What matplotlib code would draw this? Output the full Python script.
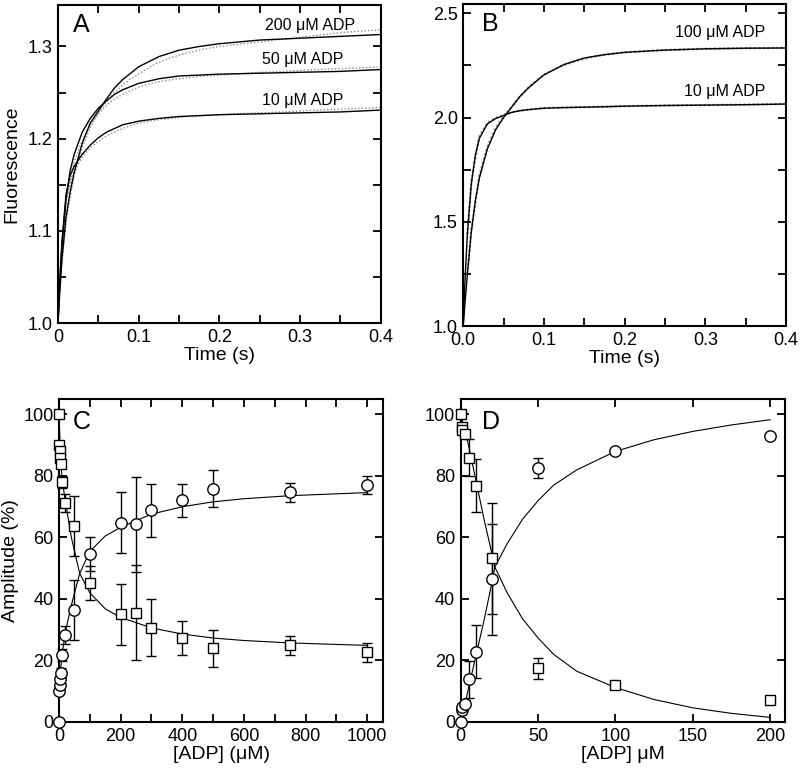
import matplotlib
matplotlib.use("Agg")
import matplotlib.pyplot as plt
from matplotlib.ticker import MultipleLocator, FuncFormatter, FormatStrFormatter

plt.rcParams['font.family'] = ['Liberation Sans', 'DejaVu Sans']

# ---------------- Panel A (fluorescence transients) ----------------
t_fit = [0, 0.002, 0.005, 0.01, 0.015, 0.02, 0.03, 0.04, 0.05, 0.06, 0.07, 0.08,
         0.1, 0.125, 0.15, 0.175, 0.2, 0.25, 0.3, 0.35, 0.4]
a_fit_200 = [1.0, 1.03, 1.07, 1.115, 1.142, 1.163, 1.195, 1.217, 1.230, 1.243, 1.255, 1.264,
             1.278, 1.289, 1.296, 1.300, 1.303, 1.307, 1.309, 1.311, 1.313]
a_fit_50 = [1.0, 1.04, 1.085, 1.135, 1.165, 1.183, 1.207, 1.222, 1.233, 1.241, 1.248, 1.253,
            1.260, 1.265, 1.268, 1.269, 1.270, 1.271, 1.272, 1.273, 1.275]
a_fit_10 = [1.0, 1.045, 1.09, 1.14, 1.16, 1.17, 1.183, 1.193, 1.201, 1.207, 1.211, 1.215,
            1.219, 1.222, 1.224, 1.225, 1.226, 1.227, 1.228, 1.229, 1.231]

t_data = [0.005, 0.01, 0.02, 0.03, 0.04, 0.05, 0.06, 0.07, 0.08, 0.09, 0.1, 0.12, 0.14,
          0.16, 0.18, 0.2, 0.22, 0.25, 0.28, 0.3, 0.32, 0.35, 0.38, 0.4]
a_data_200 = [1.065, 1.11, 1.16, 1.19, 1.212, 1.228, 1.24, 1.25, 1.258, 1.265, 1.27, 1.281, 1.288,
              1.293, 1.297, 1.300, 1.302, 1.305, 1.308, 1.310, 1.312, 1.315, 1.317, 1.318]
a_data_50 = [1.08, 1.13, 1.175, 1.198, 1.215, 1.227, 1.236, 1.243, 1.248, 1.252, 1.256, 1.261, 1.264,
             1.266, 1.268, 1.269, 1.270, 1.272, 1.273, 1.274, 1.275, 1.276, 1.277, 1.278]
a_data_10 = [1.085, 1.135, 1.165, 1.18, 1.19, 1.197, 1.203, 1.207, 1.211, 1.214, 1.217, 1.220, 1.222,
             1.224, 1.225, 1.226, 1.227, 1.228, 1.229, 1.230, 1.231, 1.232, 1.233, 1.234]

# ---------------- Panel B ----------------
b_fit_100 = [1.0, 1.1, 1.24, 1.45, 1.6, 1.71, 1.85, 1.94, 2.0, 2.05, 2.1, 2.14,
             2.205, 2.255, 2.286, 2.302, 2.313, 2.324, 2.33, 2.333, 2.334]
b_fit_10 = [1.0, 1.2, 1.43, 1.68, 1.82, 1.90, 1.97, 1.995, 2.01, 2.025, 2.033, 2.038,
            2.045, 2.048, 2.05, 2.052, 2.055, 2.058, 2.06, 2.062, 2.065]
b_data_100 = [1.25, 1.46, 1.72, 1.86, 1.95, 2.005, 2.05, 2.10, 2.14, 2.175, 2.205, 2.245, 2.272,
              2.292, 2.304, 2.313, 2.318, 2.324, 2.328, 2.33, 2.331, 2.333, 2.334, 2.335]
b_data_10 = [1.44, 1.69, 1.91, 1.975, 1.998, 2.012, 2.026, 2.033, 2.038, 2.042, 2.046, 2.048, 2.05,
             2.051, 2.053, 2.055, 2.056, 2.058, 2.06, 2.06, 2.061, 2.062, 2.064, 2.066]

# ---------------- Panel C (amplitudes vs [ADP], 0-1000 uM) ----------------
c_x = [0, 1, 2, 3, 5, 10, 20, 50, 100, 200, 250, 300, 400, 500, 750, 1000]
c_circ = [0, 10, 12, 14, 16, 21.8, 28.3, 36.3, 54.7, 64.8, 64.3, 68.8, 72.1, 75.8, 74.7, 77.0]
c_circ_err = [0, 1, 1, 1, 1.5, 2, 3, 9.8, 5.6, 10, 15.4, 8.7, 5.4, 6, 3, 3]
c_sq = [100, 90, 88, 86, 84, 78.1, 71.3, 63.7, 45.2, 35.0, 35.6, 30.6, 27.4, 23.9, 24.9, 22.6]
c_sq_err = [0, 1, 1, 1, 1, 2, 3, 9.8, 5.6, 10, 15.6, 9.3, 5.5, 6, 3, 3]
c_fit_x = [0, 5, 10, 20, 40, 67, 100, 150, 200, 300, 400, 500, 600, 750, 1000]
c_fit_circ = [5, 17, 22, 29, 38, 48.3, 55.5, 60.5, 63.3, 67.6, 70.0, 71.6, 72.6, 73.6, 74.6]
c_fit_sq = [100, 86, 79, 72, 60, 48.3, 42.0, 36.8, 34.0, 30.6, 28.6, 27.3, 26.5, 25.7, 24.9]

# ---------------- Panel D (amplitudes vs [ADP], 0-200 uM) ----------------
d_x = [0, 0.5, 1, 3, 5, 10, 20, 50, 100, 200]
d_circ = [0, 3.8, 4.9, 6.0, 13.9, 22.8, 46.4, 82.6, 88.1, 93.0]
d_circ_err = [0, 0.5, 0.5, 1, 6, 8.6, 18, 3.3, 0, 0]
d_sq = [100, 96.0, 94.9, 93.8, 86.0, 76.9, 53.2, 17.4, 11.9, 7.0]
d_sq_err = [0, 0.5, 0.5, 1, 6, 8.6, 18, 3.4, 0, 0]
d_fit_x = [0, 5, 10, 15, 20, 22, 30, 40, 50, 60, 75, 100, 125, 150, 175, 200]
d_fit_circ = [0, 11, 22, 33, 45, 50.4, 58, 66, 72, 77, 82, 88, 91.8, 94.5, 96.6, 98.3]
d_fit_sq = [100, 90, 78, 66, 55, 50.4, 42, 33.5, 27.3, 22, 16.5, 11.2, 7.3, 4.6, 2.8, 1.5]

fig = plt.figure(figsize=(8, 7.72), dpi=100)
axA = fig.add_axes([0.0725, 0.5816, 0.4035, 0.4119])
axB = fig.add_axes([0.579, 0.5777, 0.4035, 0.4171])
axC = fig.add_axes([0.0738, 0.0648, 0.4052, 0.4182])
axD = fig.add_axes([0.576, 0.0648, 0.405, 0.4182])

LABEL_FS = 14
TICK_FS = 13
NOTE_FS = 11.5
LETTER_FS = 18

def style(ax):
    for s in ax.spines.values():
        s.set_linewidth(1.5)
    ax.tick_params(which='both', direction='in', top=True, right=True,
                   length=6, width=1.3, labelsize=TICK_FS, pad=4)

# A
ax = axA
for d in (a_data_200, a_data_50, a_data_10):
    ax.plot(t_data, d, color='0.55', lw=1.0, ls=(0, (1, 1.5)))
for f in (a_fit_200, a_fit_50, a_fit_10):
    ax.plot(t_fit, f, color='black', lw=1.0)
ax.set_xlim(0, 0.4)
ax.set_ylim(1.0, 1.345)
ax.xaxis.set_major_locator(MultipleLocator(0.1))
ax.xaxis.set_minor_locator(MultipleLocator(0.05))
ax.yaxis.set_major_locator(MultipleLocator(0.1))
ax.yaxis.set_minor_locator(MultipleLocator(0.05))
ax.xaxis.set_major_formatter(FuncFormatter(lambda v, p: '0' if abs(v) < 1e-9 else f'{v:.1f}'))
ax.set_xlabel('Time (s)', fontsize=LABEL_FS, labelpad=1)
ax.set_ylabel('Fluorescence', fontsize=LABEL_FS, labelpad=5)
ax.text(0.046, 0.975, 'A', transform=ax.transAxes, fontsize=LETTER_FS, va='top', ha='left')
ax.text(0.92, 0.937, '200 μM ADP', transform=ax.transAxes, fontsize=NOTE_FS, ha='right', va='center')
ax.text(0.885, 0.83, '50 μM ADP', transform=ax.transAxes, fontsize=NOTE_FS, ha='right', va='center')
ax.text(0.885, 0.70, '10 μM ADP', transform=ax.transAxes, fontsize=NOTE_FS, ha='right', va='center')
style(ax)

# B
ax = axB
for d in (b_data_100, b_data_10):
    ax.plot(t_data, d, color='0.55', lw=1.6, ls=(0, (1, 1)))
for f in (b_fit_100, b_fit_10):
    ax.plot(t_fit, f, color='black', lw=1.0)
ax.set_xlim(0, 0.4)
ax.set_ylim(1.0, 2.545)
ax.xaxis.set_major_locator(MultipleLocator(0.1))
ax.xaxis.set_minor_locator(MultipleLocator(0.05))
ax.yaxis.set_major_locator(MultipleLocator(0.5))
ax.yaxis.set_minor_locator(MultipleLocator(0.25))
ax.xaxis.set_major_formatter(FormatStrFormatter('%.1f'))
ax.yaxis.set_major_formatter(FormatStrFormatter('%.1f'))
ax.set_xlabel('Time (s)', fontsize=LABEL_FS, labelpad=1)
ax.text(0.059, 0.975, 'B', transform=ax.transAxes, fontsize=LETTER_FS, va='top', ha='left')
ax.text(0.935, 0.91, '100 μM ADP', transform=ax.transAxes, fontsize=NOTE_FS, ha='right', va='center')
ax.text(0.935, 0.727, '10 μM ADP', transform=ax.transAxes, fontsize=NOTE_FS, ha='right', va='center')
style(ax)

mk = dict(mfc='white', mec='black', mew=1.0, color='black', elinewidth=1.0,
          capsize=3.5, capthick=1.0, ls='none', clip_on=False, zorder=3)

# C
ax = axC
ax.plot(c_fit_x, c_fit_circ, color='black', lw=0.8, zorder=2)
ax.plot(c_fit_x, c_fit_sq, color='black', lw=0.8, zorder=2)
ax.errorbar(c_x, c_sq, yerr=c_sq_err, marker='s', ms=7.8, **mk)
ax.errorbar(c_x, c_circ, yerr=c_circ_err, marker='o', ms=8.2, **mk)
ax.set_xlim(0, 1052)
ax.set_ylim(0, 105)
ax.xaxis.set_major_locator(MultipleLocator(200))
ax.xaxis.set_minor_locator(MultipleLocator(100))
ax.yaxis.set_major_locator(MultipleLocator(20))
ax.set_xlabel('[ADP] (μM)', fontsize=LABEL_FS, labelpad=1)
ax.set_ylabel('Amplitude (%)', fontsize=LABEL_FS, labelpad=3)
ax.text(0.043, 0.965, 'C', transform=ax.transAxes, fontsize=LETTER_FS, va='top', ha='left')
style(ax)

# D
ax = axD
ax.plot(d_fit_x, d_fit_circ, color='black', lw=0.8, zorder=2)
ax.plot(d_fit_x, d_fit_sq, color='black', lw=0.8, zorder=2)
ax.errorbar(d_x, d_sq, yerr=d_sq_err, marker='s', ms=7.8, **mk)
ax.errorbar(d_x, d_circ, yerr=d_circ_err, marker='o', ms=8.2, **mk)
ax.set_xlim(0, 209.5)
ax.set_ylim(0, 105)
ax.xaxis.set_major_locator(MultipleLocator(50))
ax.yaxis.set_major_locator(MultipleLocator(20))
ax.set_xlabel('[ADP] μM', fontsize=LABEL_FS, labelpad=1)
ax.text(0.065, 0.965, 'D', transform=ax.transAxes, fontsize=LETTER_FS, va='top', ha='left')
style(ax)

fig.savefig('out.png', dpi=100)
